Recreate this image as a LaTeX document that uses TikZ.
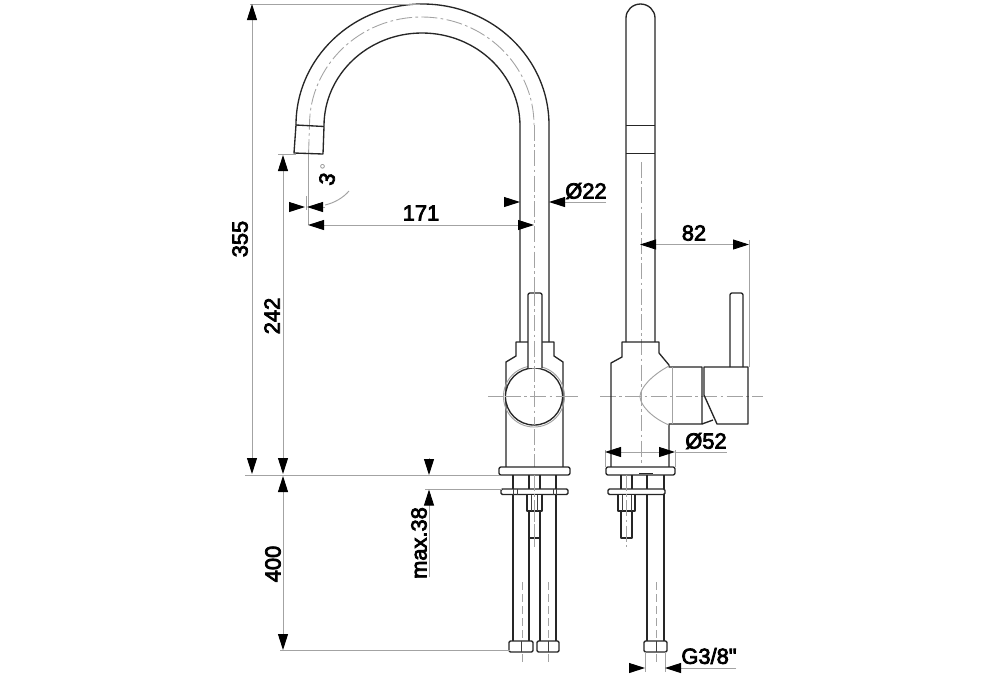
\documentclass[tikz,border=0pt]{standalone}
\usepackage{fontspec}
\setmainfont{Liberation Sans}
\newfontfamily\dimfont{Liberation Sans}[FakeBold=3.5]
\usetikzlibrary{arrows.meta}
\tikzset{
  outline/.style={draw=black!85,line width=1pt,line join=round},
  thinl/.style={draw=black!75,line width=0.6pt},
  greyl/.style={draw=black!36,line width=0.7pt},
  axisl/.style={draw=black!36,line width=0.65pt,dash pattern=on 12pt off 2.5pt on 2pt off 2.5pt},
  dashl/.style={draw=black!36,line width=0.65pt,dash pattern=on 6pt off 3pt},
  dimen/.style={greyl,-{Triangle[length=12pt,width=7.5pt,black]},shorten >=0pt},
  dimtext/.style={inner sep=0pt,font=\dimfont\fontsize{16.4pt}{17pt}\selectfont},
}
\begin{document}
\begin{tikzpicture}[x=0.75pt,y=-0.75pt]
\useasboundingbox[fill=white] (0,0) rectangle (1000,676);

% ---------- centre lines
\draw[axisl] (534,125) -- (534,547);
\draw[axisl] (488,396.5) -- (578,396.5);
\draw[axisl] (600,396.5) -- (763,396.5);
\draw[axisl] (641,162) -- (641,465);
\draw[axisl] (308.5,155) -- (309.5,125) arc[start angle=180,end angle=0,x radius=84.19pt,y radius=81pt];
\draw[dashl] (522,582) -- (522,662);
\draw[dashl] (548,582) -- (548,662);
\draw[dashl] (656,582) -- (656,662);

% ---------- front view: spout
\draw[outline] (296,125) arc[start angle=180,end angle=0,x radius=94.875pt,y radius=90.75pt] -- (549,342);
\draw[outline] (324,126) arc[start angle=180,end angle=0,x radius=73.5pt,y radius=69.75pt] -- (520,342);
\draw[outline] (296,125) -- (324,126.5) -- (323,154) -- (294,153) -- cycle;

% ---------- front view: body
\draw[outline] (506,467) -- (506,362) -- (516,356) -- (516,342) -- (554,342) -- (554,356) -- (563,362) -- (563,467);
\draw[greyl] (534,396.5) circle[radius=22.9pt];
\draw[outline,fill=white] (534,396.5) circle[radius=21.4pt];
\draw[outline,fill=white,rounded corners=1.5pt] (528,368) -- (528,293) -- (542,293) -- (542,368);
\draw[axisl] (534,290) -- (534,425);
\draw[axisl] (505,396.5) -- (565,396.5);
\draw[outline,rounded corners=1.5pt,fill=white] (499,467) rectangle (570,475);
\draw[outline] (513,475) -- (513,641) (529,494) -- (529,641) (540,494) -- (540,641) (556,475) -- (556,641);
\draw[outline] (529,475) -- (529,489) (540,475) -- (540,489);
\draw[outline,rounded corners=1pt,fill=white] (501,489) rectangle (568,494.5);
\draw[thinl] (513,489) -- (513,494.5) (556,489) -- (556,494.5) (517,489) -- (517,494.5) (553,489) -- (553,494.5);
\draw[outline,fill=white] (527,494.5) rectangle (542,511);
\draw[thinl] (531,494.5) -- (531,511) (537.5,494.5) -- (537.5,511);
\draw[outline] (529,538) -- (540,538);
\draw[axisl] (534,475) -- (534,547);
\draw[outline,rounded corners=1pt,fill=white] (509,641) rectangle (533,652);
\draw[outline,rounded corners=1pt,fill=white] (537,641) rectangle (559,652);
\draw[thinl] (521,641) -- (521,652) (548,641) -- (548,652);

% ---------- side view: spout
\draw[outline] (626,342) -- (626,18) arc[start angle=180,end angle=0,x radius=10.875pt,y radius=10.5pt] -- (655,342);
\draw[outline] (626,125.5) -- (655,125.5);
\draw[outline] (626,153.5) -- (655,153.5);

% ---------- side view: body
\draw[outline] (611,467) -- (611,363) -- (622,357) -- (622,342) -- (659,342) -- (659,353) -- (669,365) -- (669,367) -- (702,367) -- (702,424) -- (669,424) -- (669,467);
\draw[greyl] (669,366) .. controls (652,375) and (640,388) .. (640,396.5) .. controls (640,405) and (652,418) .. (669,425);
\draw[greyl] (672,367) -- (672,424);
\draw[outline] (704,367) -- (748,367) -- (748,424) -- (717,424) -- (704,395) -- cycle;
\draw[outline] (702,424) -- (713,420);
\draw[outline,rounded corners=1.5pt] (730,367) -- (730,293) -- (743,293) -- (743,367);
\draw[outline,rounded corners=1.5pt,fill=white] (606,467) rectangle (675,475);
\draw[outline] (621,475) -- (621,489) (632,475) -- (632,489);
\draw[outline] (647,475) -- (647,641) (664,475) -- (664,641);
\draw[outline,line width=1.4pt] (639,473.5) -- (653,473.5);
\draw[outline,rounded corners=1pt,fill=white] (608,489) rectangle (665,494.5);
\draw[outline,fill=white] (618,494.5) rectangle (635,511);
\draw[thinl] (622,494.5) -- (622,511) (631,494.5) -- (631,511);
\draw[outline] (621,511) -- (621,538) -- (632,538) -- (632,511);
\draw[axisl] (626.5,475) -- (626.5,547);
\draw[outline,rounded corners=1pt,fill=white] (644,641) rectangle (667,652);
\draw[thinl] (656,641) -- (656,652);

% ---------- extension lines
\coordinate (topA) at (250,4);   \coordinate (topB) at (420,4);
\coordinate (deckA) at (245,475); \coordinate (deckB) at (500,475);
\coordinate (maxA) at (425,489.5); \coordinate (maxB) at (502,489.5);
\coordinate (lowA) at (280,650); \coordinate (lowB) at (510,650);
\coordinate (noseA) at (278,154); \coordinate (noseB) at (296,154);
\draw[greyl] (topA) -- (topB);
\draw[greyl] (deckA) -- (deckB);
\draw[greyl] (maxA) -- (maxB);
\draw[greyl] (lowA) -- (lowB);
\draw[greyl] (noseA) -- (noseB);
\draw[greyl] (308,155) -- (308,225);
\draw[greyl] (306,196) -- (306,210);
\draw[greyl] (749,240) -- (749,367);
\draw[greyl] (605,450) -- (605,467) (675,450) -- (675,467);
\draw[greyl] (645,652) -- (645,672) (665,652) -- (665,672);
\draw[greyl] (325,205) .. controls (334,203) and (343,198) .. (349,191);

% ---------- dimensions
\coordinate (a355t) at (252,4);  \coordinate (a355m) at (252,240); \coordinate (a355b) at (252,474);
\draw[dimen] (a355m) -- (a355t);
\draw[dimen] (a355m) -- (a355b);
\coordinate (a242t) at (283,155); \coordinate (a242m) at (283,320); \coordinate (a242b) at (283,474);
\draw[dimen] (a242m) -- (a242t);
\draw[dimen] (a242m) -- (a242b);
\coordinate (a400t) at (283,476); \coordinate (a400m) at (283,560); \coordinate (a400b) at (283,650);
\draw[dimen] (a400m) -- (a400t);
\draw[dimen] (a400m) -- (a400b);
\coordinate (mA) at (429,458); \coordinate (mB) at (429,475);
\coordinate (mC) at (429,577); \coordinate (mD) at (429,489.5);
\draw[dimen] (mA) -- (mB);
\draw[dimen] (mC) -- (mD);
\coordinate (c171l) at (308,225); \coordinate (c171m) at (420,225); \coordinate (c171r) at (534,225);
\draw[dimen] (c171m) -- (c171l);
\draw[dimen] (c171m) -- (c171r);
\coordinate (d22a) at (504,202); \coordinate (d22b) at (520,202);
\coordinate (d22c) at (606,202); \coordinate (d22d) at (549,202);
\draw[dimen] (d22a) -- (d22b);
\draw[dimen] (d22c) -- (d22d);
\coordinate (d3a) at (289,207); \coordinate (d3b) at (305,207);
\coordinate (d3c) at (325,207); \coordinate (d3d) at (307,207);
\draw[dimen] (d3a) -- (d3b);
\draw[dimen] (d3c) -- (d3d);
\coordinate (d82l) at (640,244.5); \coordinate (d82m) at (695,244.5); \coordinate (d82r) at (749,244.5);
\draw[dimen] (d82m) -- (d82l);
\draw[dimen] (d82m) -- (d82r);
\coordinate (d52l) at (605,452); \coordinate (d52m) at (640,452); \coordinate (d52r) at (675,452); \coordinate (d52e) at (727,452);
\draw[dimen] (d52m) -- (d52l);
\draw[dimen] (d52m) -- (d52r);
\draw[greyl] (d52r) -- (d52e);
\coordinate (gA) at (629,668); \coordinate (gB) at (645,668);
\coordinate (gC) at (736,668); \coordinate (gD) at (665,668);
\draw[dimen] (gA) -- (gB);
\draw[dimen] (gC) -- (gD);

% ---------- labels
\node[dimtext,rotate=90] (t355) at (240,239) {355};
\node[dimtext,rotate=90] (t242) at (272,316) {242};
\node[dimtext,rotate=90] (t400) at (273,564) {400};
\node[dimtext,rotate=90] (tmax) at (419,543) {max.38};
\node[dimtext] (t171) at (421,213) {171};
\node[dimtext] (t22) at (586,191) {Ø22};
\node[dimtext] (t82) at (694,233) {82};
\node[dimtext] (t52) at (706,441) {Ø52};
\node[dimtext] (tg) at (709,656) {G3/8"};
\node[dimtext,rotate=80] (t3) at (327,179) {3};
\node[inner sep=0pt,rotate=80,text=black!45,font=\fontsize{12pt}{12pt}\selectfont] (tdeg) at (326,167) {°};
\end{tikzpicture}
\end{document}
